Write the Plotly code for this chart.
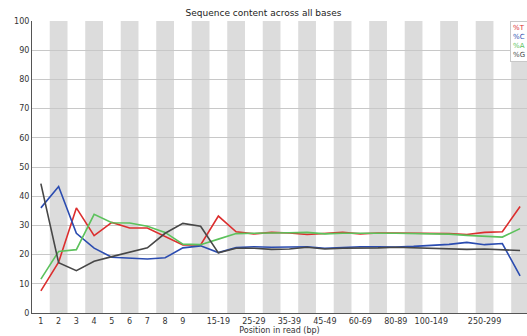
import plotly.graph_objects as go

categories = ["1", "2", "3", "4", "5", "6", "7", "8", "9",
              "10-14", "15-19", "20-24", "25-29", "30-34", "35-39", "40-44", "45-49",
              "50-59", "60-69", "70-79", "80-89", "90-99",
              "100-149", "150-199", "200-249", "250-299", "300-349", "350-351"]

pct_T = [7.6, 17.4, 36.0, 26.5, 31.0, 29.1, 29.1, 26.1, 23.3, 23.3, 33.2, 27.8,
         27.1, 27.6, 27.4, 26.9, 27.3, 27.6, 27.1, 27.4, 27.4, 27.4, 27.3, 27.2,
         26.9, 27.6, 27.8, 36.5]
pct_C = [36.0, 43.3, 27.3, 22.2, 19.1, 18.7, 18.5, 18.9, 22.3, 23.0, 20.7, 22.4,
         22.7, 22.5, 22.7, 22.7, 22.2, 22.5, 22.7, 22.7, 22.6, 22.8, 23.2, 23.5,
         24.2, 23.4, 23.8, 12.7]
pct_A = [11.6, 21.1, 21.7, 33.8, 30.9, 30.8, 29.7, 27.6, 23.6, 23.4, 25.3, 27.2,
         27.3, 27.5, 27.5, 27.6, 27.1, 27.3, 27.4, 27.3, 27.3, 27.2, 27.1, 27.0,
         26.6, 26.4, 26.0, 28.9]
pct_G = [44.3, 17.2, 14.5, 17.7, 19.3, 20.8, 22.3, 27.3, 30.7, 29.7, 20.6, 22.2,
         22.2, 21.8, 21.9, 22.5, 21.9, 22.2, 22.2, 22.3, 22.5, 22.3, 22.2, 21.9,
         21.8, 21.9, 21.7, 21.4]

series_names = ["%T", "%C", "%A", "%G"]
series_colors = ["#dc2e2e", "#2b4cb0", "#5cc25c", "#474747"]
series_values = [pct_T, pct_C, pct_A, pct_G]

shown_ticks = ["1", "2", "3", "4", "5", "6", "7", "8", "9",
               "15-19", "25-29", "35-39", "45-49", "60-69", "80-89", "100-149", "250-299"]

FONT = "DejaVu Sans"

fig = go.Figure()
for name, color, vals in zip(series_names, series_colors, series_values):
    fig.add_trace(go.Scatter(x=categories, y=vals, mode="lines", name=name,
                             line=dict(color=color, width=1.6), showlegend=False))

# alternating grey bands
for i in range(len(categories)):
    if i % 2 == 1:
        fig.add_shape(type="rect", xref="x", yref="paper", x0=i - 0.5, x1=i + 0.5,
                      y0=0, y1=1, fillcolor="#dcdcdc", line=dict(width=0), layer="below")

legend_text = "<br>".join(
    f"<span style='color:{c}'>{n}</span>" for n, c in zip(series_names, series_colors))
fig.add_annotation(xref="paper", yref="paper", x=0.966, y=1.0, xanchor="left", yanchor="top",
                   text=legend_text, showarrow=False, align="left",
                   font=dict(family=FONT, size=7), bgcolor="white",
                   bordercolor="#c8c8c8", borderwidth=1, borderpad=2)

fig.update_layout(
    width=527, height=336,
    margin=dict(l=32, r=0, t=21, b=23, autoexpand=False),
    paper_bgcolor="white", plot_bgcolor="white",
    font=dict(family=FONT, size=8, color="#333333"),
    title=dict(text="Sequence content across all bases", x=0.5, xanchor="center",
               y=0.962, yanchor="middle", font=dict(family=FONT, size=9, color="#222222")),
    xaxis=dict(type="category", range=[-0.5, 27.39], tickmode="array",
               tickvals=shown_ticks, ticktext=shown_ticks, showgrid=False,
               showline=True, linecolor="#555555", linewidth=1, ticks="",
               tickfont=dict(size=8, color="#333333"),
               title=dict(text="Position in read (bp)", font=dict(size=8, color="#333333"),
                          standoff=2)),
    yaxis=dict(range=[0, 100], dtick=10, showgrid=True, gridcolor="#c8c8c8", gridwidth=1,
               showline=True, linecolor="#555555", linewidth=1, ticks="", zeroline=False,
               tickfont=dict(size=8, color="#333333")),
)

fig.write_html("out.html")
